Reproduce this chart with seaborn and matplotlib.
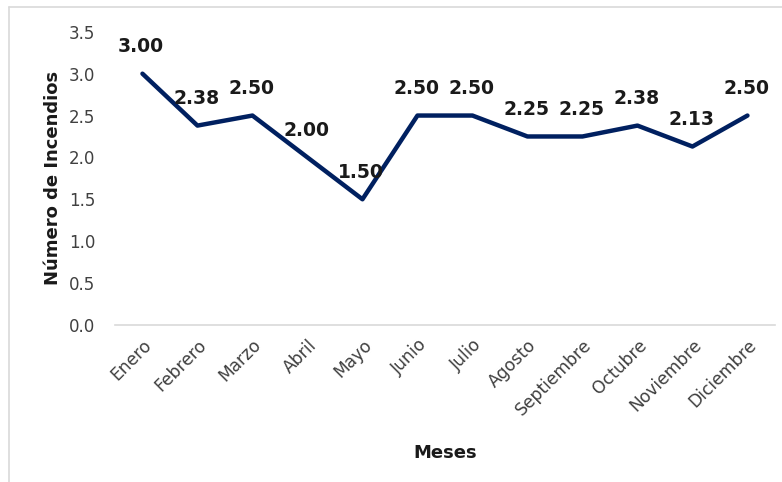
import matplotlib
matplotlib.use("Agg")
import matplotlib.pyplot as plt
import seaborn as sns
import pandas as pd
from matplotlib.lines import Line2D

meses = ["Enero", "Febrero", "Marzo", "Abril", "Mayo", "Junio", "Julio",
         "Agosto", "Septiembre", "Octubre", "Noviembre", "Diciembre"]
incendios = [3.00, 2.38, 2.50, 2.00, 1.50, 2.50, 2.50, 2.25, 2.25, 2.38, 2.13, 2.50]
y_ticks = [0.0, 0.5, 1.0, 1.5, 2.0, 2.5, 3.0, 3.5]

df = pd.DataFrame({"Mes": meses, "Valor": incendios})

sns.set_theme(style="white")
plt.rcParams["font.family"] = ["DejaVu Sans"]

fig = plt.figure(figsize=(7.82, 4.82), dpi=100)
ax = fig.add_axes([0.147, 0.326, 0.844, 0.608])

line_color = "#002060"
sns.lineplot(data=df, x="Mes", y="Valor", ax=ax, color=line_color,
             linewidth=3.2, sort=False)

for i, v in enumerate(incendios):
    ax.annotate(f"{v:.2f}", (i, v), xytext=(-1, 19.5), textcoords="offset points",
                ha="center", va="center", fontsize=13.5, fontweight="bold",
                color="#1a1a1a")

ax.set_xlim(-0.5, len(meses) - 0.5)
ax.set_ylim(0, 3.5)
ax.set_yticks(y_ticks)
ax.set_yticklabels([f"{t:.1f}" for t in y_ticks], fontsize=12, color="#404040")
ax.set_xticks(range(len(meses)))
ax.set_xticklabels(meses, rotation=45, ha="right", rotation_mode="anchor",
                   fontsize=12.3, color="#404040")
ax.tick_params(axis="both", length=0, pad=8)
ax.tick_params(axis="y", pad=14)

for s in ["top", "right", "left"]:
    ax.spines[s].set_visible(False)
ax.spines["bottom"].set_color("#d9d9d9")
ax.spines["bottom"].set_linewidth(1.2)

ax.set_xlabel("Meses", fontsize=13, fontweight="bold", color="#1a1a1a", labelpad=18)
ax.set_ylabel("Número de Incendios", fontsize=13, fontweight="bold", color="#1a1a1a",
              labelpad=5)
ax.grid(False)

# outer chart frame (light gray)
fig.add_artist(Line2D([9/782, 1.0], [1 - 7/482, 1 - 7/482], transform=fig.transFigure,
                      color="#d9d9d9", linewidth=1.2))
fig.add_artist(Line2D([9/782, 9/782], [0.0, 1 - 7/482], transform=fig.transFigure,
                      color="#d9d9d9", linewidth=1.2))

fig.savefig("out.png", dpi=100)
